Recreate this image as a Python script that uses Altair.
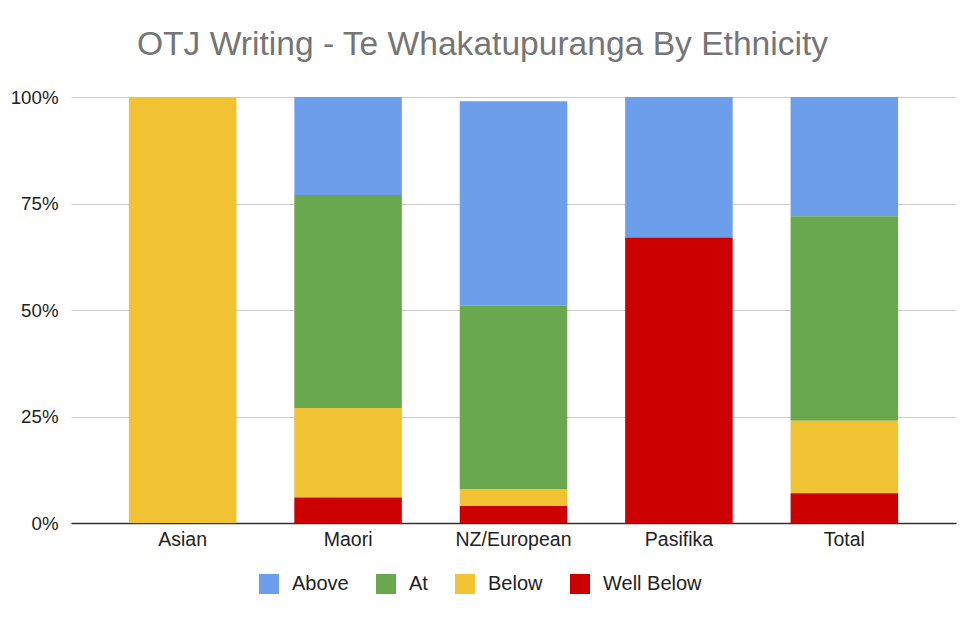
import altair as alt
import pandas as pd

categories = ["Asian", "Maori", "NZ/European", "Pasifika", "Total"]
levels = ["Above", "At", "Below", "Well Below"]
colors = ["#6d9eeb", "#6aa84f", "#f1c232", "#cc0000"]

above = [0, 23, 48, 33, 28]
at = [0, 50, 43, 0, 48]
below = [100, 21, 4, 0, 17]
well_below = [0, 6, 4, 67, 7]

series = {"Above": above, "At": at, "Below": below, "Well Below": well_below}
stack_rank = {"Well Below": 1, "Below": 2, "At": 3, "Above": 4}

rows = []
for lvl in levels:
    for cat, v in zip(categories, series[lvl]):
        rows.append({"Ethnicity": cat, "Level": lvl, "Pct": v, "rank": stack_rank[lvl]})
df = pd.DataFrame(rows)

FONT = "Liberation Sans"

chart = (
    alt.Chart(df)
    .transform_filter(alt.datum.Pct > 0)
    .mark_bar()
    .encode(
        x=alt.X(
            "Ethnicity:N",
            sort=categories,
            scale=alt.Scale(paddingInner=0.35, paddingOuter=0.35),
            axis=alt.Axis(
                title=None,
                labelAngle=0,
                labelFont=FONT,
                labelFontSize=19.5,
                labelColor="#222222",
                labelPadding=7,
                ticks=False,
                domainColor="#333333",
                domainWidth=1.5,
                grid=False,
            ),
        ),
        y=alt.Y(
            "Pct:Q",
            stack="zero",
            scale=alt.Scale(domain=[0, 100], nice=False),
            axis=alt.Axis(
                title=None,
                values=[0, 25, 50, 75, 100],
                labelExpr="datum.value + '%'",
                labelFont=FONT,
                labelFontSize=18.7,
                labelColor="#222222",
                labelPadding=13,
                ticks=False,
                domain=False,
                gridColor="#cccccc",
                gridWidth=1,
            ),
        ),
        color=alt.Color(
            "Level:N",
            scale=alt.Scale(domain=levels, range=colors),
            legend=alt.Legend(
                title=None,
                orient="none",
                direction="horizontal",
                legendX=188,
                legendY=477,
                symbolType="square",
                symbolSize=400,
                symbolStrokeWidth=0,
                symbolOpacity=1,
                labelFont=FONT,
                labelFontSize=20,
                labelColor="#222222",
                labelOffset=13,
                columnPadding=27,
            ),
        ),
        order=alt.Order("rank:Q", sort="ascending"),
    )
    .properties(
        width=885,
        height=426,
        title=alt.TitleParams(
            "OTJ Writing - Te Whakatupuranga By Ethnicity",
            font=FONT,
            fontSize=33.6,
            fontWeight="normal",
            color="#757575",
            anchor="middle",
            frame="group",
            baseline="alphabetic",
            offset=39,
            dx=-31,
            dy=40,
        ),
        autosize=alt.AutoSizeParams(type="none"),
        padding={"left": 71, "top": 97, "right": 19, "bottom": 101},
        background="white",
    )
    .configure_view(stroke=None)
)

chart.save("out.html", embed_options={"renderer": "svg", "actions": False})
